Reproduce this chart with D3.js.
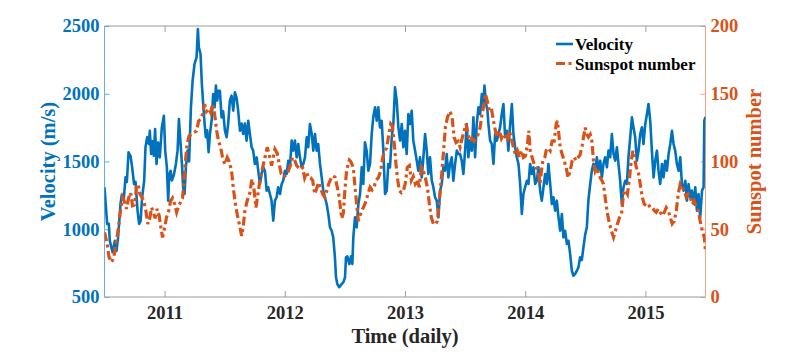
<!DOCTYPE html>
<html><head><meta charset="utf-8">
<script src="https://cdn.jsdelivr.net/npm/d3@7"></script>
<style>
body{margin:0;background:#fff;}
svg{display:block;}
text{font-family:"Liberation Serif","Times New Roman",serif;font-weight:bold;}
</style>
</head><body>
<svg id="chart" width="801" height="354"></svg>
<script>
// ---------- DATA ----------
const seriesNames = ["Velocity", "Sunspot number"];
const yearTicks = [2011, 2012, 2013, 2014, 2015];
const velocityTicks = [500, 1000, 1500, 2000, 2500];
const sunspotTicks = [0, 50, 100, 150, 200];

// [time (decimal year), velocity m/s]
const velocity = [
[2010.500,1310],[2010.522,1039],[2010.536,1040],[2010.544,915],[2010.567,830],[2010.586,915],[2010.600,840],[2010.613,940],
[2010.633,1186],[2010.644,1255],[2010.661,1230],[2010.675,1383],[2010.686,1350],[2010.700,1568],[2010.717,1540],[2010.730,1457],
[2010.746,1334],[2010.758,1350],[2010.775,1137],[2010.788,1039],[2010.800,1060],[2010.813,1236],[2010.830,1358],[2010.841,1605],
[2010.855,1679],[2010.869,1630],[2010.877,1727],[2010.888,1555],[2010.900,1650],[2010.910,1543],[2010.921,1740],[2010.933,1482],
[2010.946,1640],[2010.960,1530],[2010.977,1752],[2010.994,1838],[2011.005,1580],[2011.019,1457],[2011.030,1211],[2011.038,1400],
[2011.050,1432],[2011.060,1360],[2011.077,1400],[2011.094,1482],[2011.108,1580],[2011.119,1814],[2011.133,1630],[2011.146,1457],
[2011.154,1310],[2011.166,1260],[2011.177,1457],[2011.191,1580],[2011.204,1500],[2011.219,1900],[2011.233,2096],[2011.249,2220],
[2011.266,2269],[2011.277,2478],[2011.285,2343],[2011.299,2293],[2011.310,2072],[2011.321,1924],[2011.333,1777],[2011.343,1679],
[2011.354,1730],[2011.366,1568],[2011.377,1700],[2011.391,1801],[2011.404,1998],[2011.416,1900],[2011.427,2060],[2011.438,1950],
[2011.449,2022],
[2011.460,2022],[2011.474,1826],[2011.487,1870],[2011.502,1727],[2011.516,1679],[2011.529,1780],[2011.543,1949],[2011.557,1986],
[2011.571,1875],[2011.585,2010],[2011.599,1970],[2011.612,1875],[2011.627,1727],[2011.641,1780],[2011.654,1703],[2011.668,1780],
[2011.682,1654],[2011.696,1801],[2011.710,1700],[2011.724,1605],[2011.737,1580],[2011.751,1482],[2011.766,1530],[2011.779,1432],
[2011.793,1334],[2011.807,1410],[2011.821,1457],[2011.835,1430],[2011.849,1285],[2011.862,1310],[2011.876,1260],[2011.890,1210],
[2011.904,1063],[2011.918,1211],[2011.932,1236],[2011.945,1310],[2011.960,1260],[2011.974,1334],[2011.987,1360],[2012.001,1432],
[2012.015,1408],[2012.029,1506],[2012.043,1457],[2012.057,1654],[2012.070,1580],[2012.084,1654],[2012.099,1531],[2012.112,1629],
[2012.126,1531],[2012.140,1457],[2012.154,1482],[2012.168,1531],[2012.182,1679],[2012.195,1605],[2012.209,1777],[2012.224,1703],
[2012.237,1580],[2012.251,1703],[2012.265,1580],[2012.278,1629],[2012.293,1482],[2012.307,1383],[2012.320,1285],[2012.334,1236],
[2012.348,1186],[2012.362,1113],[2012.376,1014],[2012.390,989],[2012.403,940],[2012.417,793],[2012.426,645],[2012.437,596],
[2012.453,572],[2012.473,596],[2012.487,608],[2012.501,645],[2012.509,793],[2012.520,800],[2012.537,743],[2012.551,800],
[2012.562,743],[2012.570,940],[2012.584,1088],[2012.598,1014],[2012.612,1186],[2012.626,1260],[2012.640,1457],[2012.653,1334],
[2012.667,1642],[2012.681,1580],[2012.695,1432],[2012.709,1482],[2012.723,1703],[2012.736,1826],[2012.751,1900],[2012.765,1801],
[2012.778,1900],[2012.792,1752],[2012.806,1801],[2012.820,1580],[2012.834,1260],[2012.848,1285],[2012.861,1482],[2012.875,1457],
[2012.890,1679],[2012.903,1777],[2012.917,2047],[2012.931,1949],[2012.945,1752],[2012.959,1654],[2012.973,1777],[2012.986,1605],
[2013.000,1727],[2013.014,1555],[2013.028,1851],[2013.042,1777],[2013.056,1875],[2013.069,1654],[2013.084,1580],[2013.098,1506],
[2013.111,1432],[2013.125,1531],[2013.139,1383],[2013.153,1531],[2013.167,1703],[2013.181,1580],[2013.194,1408],[2013.208,1531],
[2013.223,1358],[2013.236,1310],[2013.250,1236],[2013.264,1211],[2013.278,1088],[2013.292,1285],[2013.306,1334],[2013.319,1457],
[2013.333,1432],[2013.347,1555],[2013.361,1383],[2013.375,1482],[2013.389,1531],[2013.402,1358],[2013.417,1482],[2013.431,1580],
[2013.444,1555],[2013.458,1555],[2013.472,1506],[2013.486,1408],[2013.500,1580],[2013.514,1777],[2013.527,1531],[2013.541,1654],
[2013.556,1580],[2013.569,1826],[2013.583,1531],[2013.597,1777],[2013.611,1900],[2013.625,1850],[2013.639,1998],[2013.652,1924],
[2013.661,2060],[2013.675,1924],[2013.686,1875],[2013.694,1777],[2013.708,1654],[2013.722,1629],[2013.736,1482],[2013.750,1703],
[2013.764,1654],[2013.777,1703],[2013.791,1752],[2013.805,1850],[2013.819,1924],[2013.833,1679],[2013.847,1727],[2013.860,1580],
[2013.875,1777],[2013.889,1924],[2013.902,1703],[2013.916,1605],[2013.930,1531],[2013.944,1482],[2013.958,1334],[2013.972,1113],
[2013.985,1260],[2013.999,1310],[2014.014,1358],[2014.027,1334],[2014.041,1482],[2014.055,1408],[2014.069,1457],[2014.083,1334],
[2014.097,1358],[2014.110,1457],[2014.124,1285],[2014.138,1211],[2014.152,1310],[2014.166,1408],[2014.180,1334],[2014.193,1482],
[2014.208,1334],[2014.222,1186],[2014.235,1236],[2014.249,1137],[2014.263,1211],[2014.277,1088],[2014.291,989],[2014.305,1113],
[2014.318,940],[2014.332,989],[2014.347,891],[2014.360,915],[2014.374,817],[2014.388,694],[2014.402,657],[2014.416,670],
[2014.430,694],[2014.443,720],[2014.457,793],[2014.471,773],[2014.485,871],[2014.499,960],[2014.513,1019],[2014.526,1216],
[2014.541,1334],[2014.555,1437],[2014.568,1482],[2014.582,1433],[2014.596,1531],[2014.610,1433],[2014.624,1506],[2014.638,1383],
[2014.651,1482],[2014.665,1531],[2014.680,1457],[2014.693,1580],[2014.707,1531],[2014.721,1703],[2014.735,1555],[2014.749,1506],
[2014.763,1605],[2014.776,1482],[2014.790,1358],[2014.804,1186],[2014.818,1310],[2014.832,1358],[2014.846,1334],[2014.859,1531],
[2014.874,1679],[2014.888,1826],[2014.901,1752],[2014.915,1679],[2014.929,1506],[2014.943,1580],[2014.957,1703],[2014.971,1752],
[2014.984,1629],[2014.999,1777],[2015.013,1850],[2015.026,1924],[2015.040,1801],[2015.054,1580],[2015.068,1383],[2015.082,1506],
[2015.096,1580],[2015.109,1432],[2015.123,1334],[2015.138,1482],[2015.151,1383],[2015.165,1506],[2015.179,1432],[2015.193,1555],
[2015.207,1629],[2015.221,1727],[2015.234,1629],[2015.248,1580],[2015.262,1482],[2015.276,1432],[2015.290,1531],[2015.304,1334],
[2015.317,1285],[2015.332,1358],[2015.346,1211],[2015.359,1334],[2015.373,1236],[2015.387,1285],[2015.401,1186],[2015.415,1310],
[2015.429,1137],[2015.442,1260],[2015.456,1088],[2015.471,1285],[2015.484,1310],[2015.490,1801],[2015.500,1830]
];

// [time (decimal year), sunspot number]
const sunspot = [
[2010.500,47.7],[2010.522,39],[2010.538,29.3],[2010.558,25.6],[2010.577,29],[2010.594,39],[2010.613,49],[2010.633,63.7],
[2010.650,73.6],[2010.667,70],[2010.683,65],[2010.700,73],[2010.717,77],[2010.733,67.4],[2010.750,68],[2010.766,81],
[2010.780,83.4],[2010.794,76],[2010.811,73.6],[2010.827,71],[2010.844,63.7],[2010.861,53.9],[2010.877,58],[2010.891,66],
[2010.905,63],[2010.921,58],[2010.938,65],[2010.955,60],[2010.969,51.4],[2010.983,44],[2011.002,52],[2011.016,58.8],
[2011.033,63],[2011.050,71],[2011.066,73],[2011.083,68.6],[2011.100,62.5],[2011.116,67],[2011.133,70],[2011.149,73],
[2011.160,83.4],[2011.171,98],[2011.188,113],[2011.204,119],[2011.224,120],[2011.244,121.5],[2011.266,122.5],[2011.283,130],
[2011.299,131],[2011.316,135],[2011.333,142.4],[2011.349,137],[2011.366,139],[2011.383,136],[2011.399,142.4],[2011.416,135],
[2011.433,122.7],[2011.449,115],[2011.466,110.5],[2011.482,103],[2011.502,98],[2011.521,103],[2011.537,100],[2011.557,93],
[2011.571,81],[2011.585,71],[2011.604,61],[2011.621,54],[2011.641,45],[2011.654,52],[2011.668,63.7],[2011.687,71],
[2011.710,77],[2011.726,87],[2011.743,80],[2011.760,66],[2011.776,76],[2011.793,86],[2011.816,95.7],[2011.835,103],
[2011.854,110.5],[2011.870,105],[2011.890,97],[2011.904,103],[2011.918,109],[2011.937,106],[2011.954,98],[2011.970,90.8],
[2011.987,88.5],[2012.004,89.5],[2012.026,92],[2012.049,98],[2012.065,103],[2012.082,101],[2012.099,97],[2012.115,95.5],
[2012.132,94],[2012.149,95.5],[2012.165,88],[2012.182,92],[2012.199,88],[2012.215,88],[2012.232,86],[2012.249,76],
[2012.265,80],[2012.282,84.6],[2012.298,80],[2012.315,76],[2012.332,73.6],[2012.348,78],[2012.365,83.4],[2012.382,87],
[2012.398,89.5],[2012.417,88.5],[2012.437,81],[2012.453,73.6],[2012.473,58],[2012.487,62],[2012.501,80],[2012.515,94],
[2012.537,101],[2012.548,100],[2012.570,95.7],[2012.584,81],[2012.598,68.6],[2012.612,56],[2012.626,60],[2012.640,63.7],
[2012.659,67],[2012.676,71],[2012.692,76],[2012.709,81],[2012.726,79],[2012.742,81],[2012.759,86],[2012.778,88],
[2012.798,93],[2012.815,103],[2012.831,108],[2012.848,110],[2012.865,120],[2012.881,127.7],[2012.895,126],[2012.911,113],
[2012.925,98],[2012.940,86],[2012.953,78.4],[2012.970,77],[2012.986,78.4],[2013.003,84],[2013.019,95.7],[2013.036,97],
[2013.053,86],[2013.069,89],[2013.086,83.4],[2013.103,86],[2013.119,81],[2013.136,95.7],[2013.153,93],[2013.169,88],
[2013.186,81],[2013.203,68.6],[2013.219,58.8],[2013.236,54],[2013.253,53.5],[2013.269,56],[2013.286,71],[2013.303,88],
[2013.319,105.5],[2013.336,125],[2013.353,132.6],[2013.375,137],[2013.392,132.6],[2013.408,118],[2013.425,114],[2013.442,115],
[2013.458,110.5],[2013.475,117],[2013.492,122.7],[2013.508,127.7],[2013.525,120],[2013.541,115],[2013.558,117],[2013.575,115],
[2013.591,117],[2013.608,120],[2013.625,125],[2013.641,135],[2013.658,142.4],[2013.669,150],[2013.686,144],[2013.702,137.5],
[2013.719,139],[2013.736,130],[2013.752,122.7],[2013.769,118],[2013.785,122.7],[2013.802,117],[2013.819,120],[2013.835,120],
[2013.852,115],[2013.869,122.7],[2013.885,117],[2013.902,110.5],[2013.919,105],[2013.935,108],[2013.952,103],[2013.969,108],
[2013.985,103],[2014.002,104],[2014.019,113],[2014.030,122.7],[2014.041,108],[2014.058,103],[2014.074,98],[2014.091,95.5],
[2014.108,93],[2014.124,83.4],[2014.135,93],[2014.147,100.6],[2014.163,103],[2014.174,108],[2014.191,110],[2014.208,108],
[2014.224,115],[2014.241,115],[2014.258,127.7],[2014.268,130],[2014.280,120],[2014.291,110.5],[2014.307,105.5],[2014.324,100.6],
[2014.341,95.5],[2014.357,88],[2014.374,93],[2014.391,100.6],[2014.407,103],[2014.424,100.6],[2014.441,103],[2014.457,105],
[2014.474,112],[2014.485,118],[2014.499,125],[2014.513,120],[2014.526,118],[2014.541,120],[2014.555,115],[2014.568,100.6],
[2014.582,93],[2014.596,95.5],[2014.610,91],[2014.624,88],[2014.638,86],[2014.651,83.4],[2014.665,73.6],[2014.680,63.7],
[2014.701,54],[2014.721,47.7],[2014.735,44],[2014.751,49],[2014.768,54],[2014.785,58.8],[2014.801,61],[2014.818,76],
[2014.834,79],[2014.851,76],[2014.868,88],[2014.882,100.6],[2014.896,108],[2014.909,103],[2014.924,95.7],[2014.940,93],
[2014.957,83.4],[2014.974,73.6],[2014.990,68.6],[2015.007,67.4],[2015.024,68.6],[2015.040,66],[2015.057,66],[2015.074,63.7],
[2015.090,62.5],[2015.107,65],[2015.123,62.5],[2015.140,60],[2015.157,62.5],[2015.173,66],[2015.190,63.7],[2015.207,58.8],
[2015.223,54],[2015.240,56],[2015.257,63.7],[2015.273,76],[2015.290,83.4],[2015.307,81],[2015.323,78.4],[2015.340,73.6],
[2015.357,76],[2015.373,73.6],[2015.390,68.6],[2015.406,71],[2015.423,66],[2015.440,63.7],[2015.456,56],[2015.473,49],
[2015.490,44],[2015.500,34]
];

// ---------- CHART ----------
const BLUE = "#0072BD", ORANGE = "#D95319";
const L = 104.5, R = 705.5, T = 26, B = 297;
const svg = d3.select("#chart");
const fmt = d3.format("d");

const x = d3.scaleLinear().domain([2010.5, 2015.5]).range([L, R]);
const yV = d3.scaleLinear().domain([500, 2500]).range([B, T]);
const yS = d3.scaleLinear().domain([0, 200]).range([B, T]);

svg.append("defs").append("clipPath").attr("id", "clip")
  .append("rect").attr("x", L).attr("y", T).attr("width", R - L).attr("height", B - T);

// bottom axis
const gx = svg.append("g").attr("transform", `translate(0,${B})`)
  .call(d3.axisBottom(x).tickValues(yearTicks).tickFormat(fmt)
        .tickSize(-6).tickSizeOuter(0).tickPadding(9));
gx.select(".domain").remove();
gx.selectAll(".tick line").attr("stroke", "#a0a0a0");
gx.selectAll("text").attr("fill", "#262626").style("font-size", "18.5px");

// top ticks
const gxt = svg.append("g").attr("transform", `translate(0,${T})`)
  .call(d3.axisTop(x).tickValues(yearTicks).tickFormat("").tickSize(-6).tickSizeOuter(0));
gxt.select(".domain").remove();
gxt.selectAll(".tick line").attr("stroke", "#a0a0a0");

// left axis
const gy = svg.append("g").attr("transform", `translate(${L},0)`)
  .call(d3.axisLeft(yV).tickValues(velocityTicks).tickFormat(fmt).tickSize(-5).tickSizeOuter(0).tickPadding(5));
gy.select(".domain").remove();
gy.selectAll(".tick line").attr("stroke", "#6aaedc");
gy.selectAll("text").attr("fill", BLUE).style("font-size", "18.5px");

// right axis
const gyr = svg.append("g").attr("transform", `translate(${R},0)`)
  .call(d3.axisRight(yS).tickValues(sunspotTicks).tickFormat(fmt).tickSize(-5).tickSizeOuter(0).tickPadding(5));
gyr.select(".domain").remove();
gyr.selectAll(".tick line").attr("stroke", "#eba385");
gyr.selectAll("text").attr("fill", ORANGE).style("font-size", "18.5px");

// frame lines
svg.append("line").attr("x1", L).attr("x2", R).attr("y1", T).attr("y2", T).attr("stroke", "#9a9a9a");
svg.append("line").attr("x1", L).attr("x2", R).attr("y1", B).attr("y2", B).attr("stroke", "#9a9a9a");
svg.append("line").attr("x1", L).attr("x2", L).attr("y1", T).attr("y2", B).attr("stroke", "#6aaedc");
svg.append("line").attr("x1", R).attr("x2", R).attr("y1", T).attr("y2", B).attr("stroke", "#eba385");

// lines
const plot = svg.append("g").attr("clip-path", "url(#clip)");
plot.append("path").datum(velocity)
  .attr("fill", "none").attr("stroke", BLUE).attr("stroke-width", 2.6)
  .attr("stroke-linejoin", "round")
  .attr("d", d3.line().x(d => x(d[0])).y(d => yV(d[1])));
plot.append("path").datum(sunspot)
  .attr("fill", "none").attr("stroke", ORANGE).attr("stroke-width", 3.2)
  .attr("stroke-dasharray", "9,3.5,3,3.5")
  .attr("d", d3.line().x(d => x(d[0])).y(d => yS(d[1])));

// axis labels
svg.append("text").attr("transform", "translate(55,161.5) rotate(-90)")
  .attr("text-anchor", "middle").attr("fill", BLUE).style("font-size", "20.5px")
  .text("Velocity (m/s)");
svg.append("text").attr("transform", "translate(761,161.5) rotate(-90)")
  .attr("text-anchor", "middle").attr("fill", ORANGE).style("font-size", "20.5px")
  .text("Sunspot number");
svg.append("text").attr("x", 405).attr("y", 343)
  .attr("text-anchor", "middle").attr("fill", "#262626").style("font-size", "20.5px")
  .text("Time (daily)");

// legend
const legend = svg.append("g");
const legY = [44, 63.5];
legend.append("line").attr("x1", 556).attr("x2", 573).attr("y1", legY[0]).attr("y2", legY[0])
  .attr("stroke", BLUE).attr("stroke-width", 2.6);
legend.append("line").attr("x1", 556).attr("x2", 573).attr("y1", legY[1]).attr("y2", legY[1])
  .attr("stroke", ORANGE).attr("stroke-width", 3.2).attr("stroke-dasharray", "9,3.5,3,3.5");
seriesNames.forEach((n, i) => {
  legend.append("text").attr("x", 575).attr("y", legY[i] + 6)
    .attr("fill", "#000").style("font-size", "17px").text(n);
});
</script>
</body></html>
